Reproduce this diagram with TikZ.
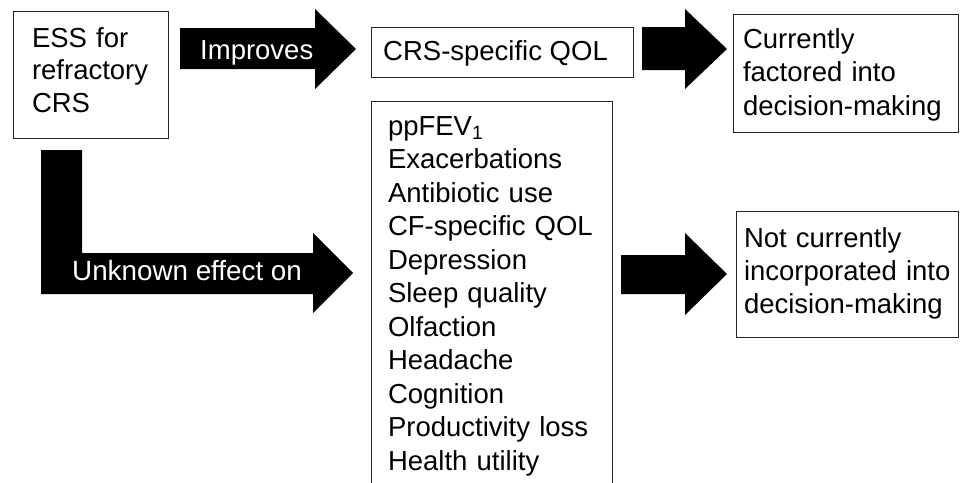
\documentclass[tikz,border=0pt]{standalone}
\usepackage{fontspec}
\setmainfont{Liberation Sans}
\begin{document}
\begin{tikzpicture}[x=1pt,y=-1pt,
  box/.style={draw=black!85, line width=1pt, anchor=north west, inner sep=0pt, outer sep=0pt},
  txt/.style={anchor=base west, inner sep=0pt, outer sep=0pt, align=left, text width=#1},
  txt/.default=200pt,
  arrowfill/.style={fill=black},
  wtxt/.style={anchor=base west, inner sep=0pt, text=white}]
\useasboundingbox (0,0) rectangle (961,482);
\clip (0,0) rectangle (961,482);
% boxes
\node[box, minimum width=155pt, minimum height=127pt] (ess) at (13,11) {};
\node[box, minimum width=262pt, minimum height=50pt] (crs) at (371,27) {};
\node[box, minimum width=241pt, minimum height=400pt] (list) at (371,101) {};
\node[box, minimum width=225pt, minimum height=118pt] (cur) at (733,14) {};
\node[box, minimum width=222pt, minimum height=126pt] (notcur) at (736,211) {};
% texts
\node[txt=130pt, font=\fontsize{27.5}{32.8}\selectfont] (esst) at (32,47) {ESS for\\refractory\\CRS};
\node[anchor=base west, inner sep=0pt, font=\fontsize{27.5}{33}\selectfont] (crst) at (383,60) {CRS-specific QOL};
\node[txt=220pt, font=\fontsize{27.5}{33.5}\selectfont] (listt) at (388,135) {ppFEV\textsubscript{1}\\Exacerbations\\Antibiotic use\\CF-specific QOL\\Depression\\Sleep quality\\Olfaction\\Headache\\Cognition\\Productivity loss\\Health utility};
\node[txt=212pt, font=\fontsize{27.5}{33.5}\selectfont] (curt) at (743,48) {Currently\\factored into\\decision-making};
\node[txt=210pt, font=\fontsize{27.5}{33}\selectfont] (notcurt) at (744,247) {Not currently\\incorporated into\\decision-making};
% block arrows
\fill[arrowfill] (180,28) -- (315,28) -- (315,9) -- (356,49) -- (315,89) -- (315,69) -- (180,69) -- cycle;
\fill[arrowfill] (41,150) -- (82,150) -- (82,253) -- (313,253) -- (313,233) -- (353,273) -- (313,313) -- (313,294) -- (41,294) -- cycle;
\fill[arrowfill] (642,27) -- (685,27) -- (685,9) -- (727,49) -- (685,89) -- (685,70) -- (642,70) -- cycle;
\fill[arrowfill] (621,255) -- (685,255) -- (685,233) -- (727,274) -- (685,315) -- (685,294) -- (621,294) -- cycle;
% arrow labels
\node[wtxt, font=\fontsize{27.5}{33}\selectfont] (impr) at (200,59.5) {Improves};
\node[wtxt, font=\fontsize{27.8}{33}\selectfont] (unk) at (72,280) {Unknown effect on};
\end{tikzpicture}
\end{document}
